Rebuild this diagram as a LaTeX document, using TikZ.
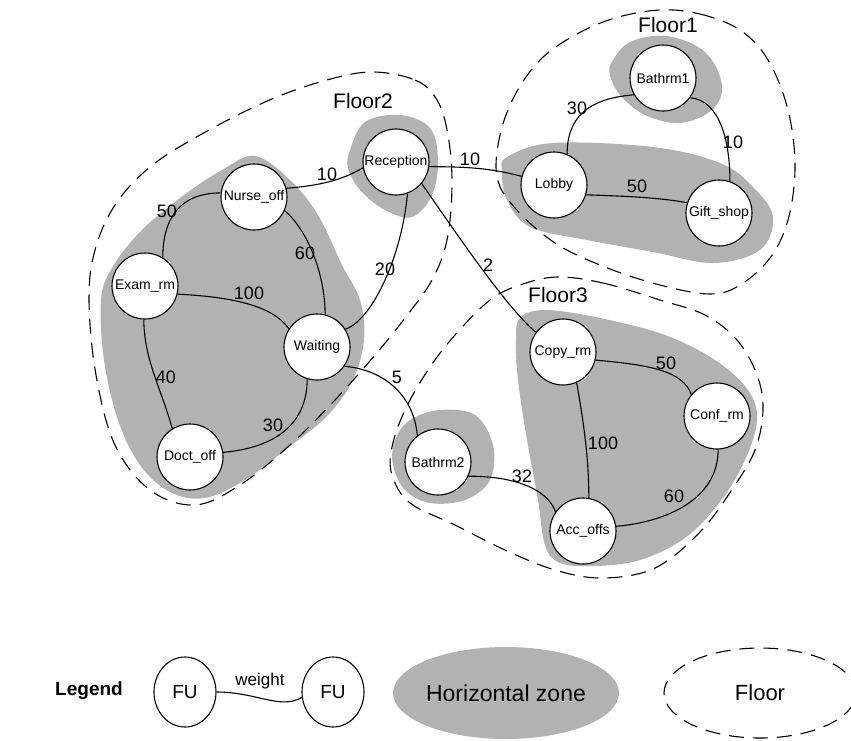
\documentclass[tikz,border=0pt]{standalone}
\usepackage{fontspec}
\setmainfont{Liberation Sans}
\usetikzlibrary{shapes.geometric}
\definecolor{zonegray}{gray}{0.70}
\begin{document}
\begin{tikzpicture}[x=1pt,y=1pt,
  fu/.style={circle,draw,fill=white,line width=1.1pt,minimum size=66pt,inner sep=0pt,
    font=\fontsize{14}{16}\selectfont},
  link/.style={line width=1.1pt},
  wlabel/.style={font=\fontsize{18}{20}\selectfont,inner sep=0pt},
  zone/.style={fill=zonegray,draw=none},
  floorline/.style={line width=1.1pt,dash pattern=on 15pt off 9pt},
  floorlabel/.style={font=\fontsize{21}{24}\selectfont,inner sep=0pt}]
\useasboundingbox (0,0) rectangle (851,-740);

% horizontal zones
\fill[zone] plot[smooth cycle,tension=0.6] coordinates {(255,-156) (290,-180) (318,-215) (342,-265) (360,-300) (364,-340) (352,-382) (325,-418) (285,-450) (245,-480) (205,-498) (170,-492) (140,-465) (118,-420) (104,-360) (101,-300) (112,-268) (140,-232) (180,-198) (222,-170)};
\fill[zone] plot[smooth cycle,tension=0.6] coordinates {(350,-150) (365,-122) (400,-115) (430,-128) (438,-160) (432,-195) (412,-217) (385,-210) (360,-190) (348,-168)};
\fill[zone] plot[smooth cycle,tension=0.6] coordinates {(612,-62) (630,-42) (667,-36) (705,-52) (722,-85) (712,-110) (680,-123) (645,-115) (620,-95) (610,-75)};
\fill[zone] plot[smooth cycle,tension=0.6] coordinates {(507,-157) (553,-143) (653,-147) (720,-163) (753,-187) (773,-217) (760,-250) (713,-263) (653,-252) (587,-240) (530,-227) (507,-200) (502,-172)};
\fill[zone] plot[smooth cycle,tension=0.6] coordinates {(395,-440) (410,-420) (440,-410) (475,-415) (493,-445) (490,-480) (465,-500) (430,-503) (405,-490) (393,-465)};
\fill[zone] plot[smooth cycle,tension=0.6] coordinates {(520,-318) (545,-310) (600,-318) (665,-335) (715,-360) (748,-390) (757,-420) (745,-460) (720,-502) (685,-538) (640,-560) (595,-566) (560,-563) (545,-545) (538,-500) (527,-440) (518,-380) (516,-340)};

% floors
\draw[floorline] plot[smooth cycle,tension=0.6] coordinates {(660,-10) (700,-14) (740,-30) (768,-60) (788,-110) (795,-167) (788,-220) (770,-258) (740,-285) (710,-294) (660,-285) (605,-267) (555,-243) (515,-208) (497,-177) (500,-135) (515,-95) (540,-60) (575,-35) (615,-18)};
\draw[floorline] plot[smooth cycle,tension=0.6] coordinates {(370,-72) (415,-80) (437,-100) (448,-135) (452,-185) (447,-240) (432,-280) (405,-318) (375,-355) (335,-400) (290,-445) (240,-485) (195,-505) (150,-490) (115,-445) (96,-375) (89,-300) (95,-250) (115,-205) (150,-167) (200,-135) (265,-102) (320,-82)};
\draw[floorline] plot[smooth cycle,tension=0.6] coordinates {(557,-277) (603,-283) (660,-300) (705,-315) (737,-340) (757,-375) (763,-410) (755,-450) (733,-488) (700,-532) (655,-568) (603,-578) (555,-570) (505,-550) (455,-525) (410,-503) (392,-475) (392,-447) (405,-410) (428,-370) (455,-335) (490,-300) (520,-285)};

\node[floorlabel] (f1) at (668,-25) {Floor1};
\node[floorlabel] (f2) at (363,-101) {Floor2};
\node[floorlabel] (f3) at (558,-295) {Floor3};

% functional units
\node[fu] (rec)   at (396,-162) {Reception};
\node[fu] (nurse) at (254,-197) {Nurse\_off};
\node[fu] (exam)  at (145,-286) {Exam\_rm};
\node[fu] (wait)  at (317,-347) {Waiting};
\node[fu] (doct)  at (190,-457) {Doct\_off};
\node[fu] (bath2) at (438,-462) {Bathrm2};
\node[fu] (bath1) at (663,-78)  {Bathrm1};
\node[fu] (lobby) at (554,-185) {Lobby};
\node[fu] (gift)  at (719,-213) {Gift\_shop};
\node[fu] (copy)  at (563,-352) {Copy\_rm};
\node[fu] (conf)  at (717,-416) {Conf\_rm};
\node[fu] (acc)   at (583,-531) {Acc\_offs};

% weighted links
\draw[link] (nurse.15) .. controls +(5:35) and +(210:25) .. (rec.190);
\draw[link] (nurse.173) .. controls +(180:40) and +(90:40) .. (exam.58);
\draw[link] (nurse.-24) .. controls +(-40:30) and +(90:40) .. (wait.76);
\draw[link] (rec.-70) .. controls +(-95:60) and +(20:30) .. (wait.32);
\draw[link] (exam.-14) .. controls +(-3:50) and +(125:30) .. (wait.147);
\draw[link] (exam.-92) .. controls +(-90:40) and +(105:40) .. (doct.122);
\draw[link] (wait.-107) .. controls +(-90:50) and +(5:45) .. (doct.8);
\draw[link] (wait.-35) .. controls +(-5:40) and +(95:40) .. (bath2.128);
\draw[link] (rec.-8) .. controls +(0:40) and +(165:30) .. (lobby.165);
\draw[link] (rec.-40) .. controls +(-55:50) and +(140:40) .. (copy.144);
\draw[link] (lobby.67) .. controls +(90:45) and +(185:35) .. (bath1.210);
\draw[link] (bath1.-36) .. controls +(-5:30) and +(90:40) .. (gift.71);
\draw[link] (lobby.-17) .. controls +(-2:40) and +(170:30) .. (gift.162);
\draw[link] (copy.-14) .. controls +(-5:55) and +(110:25) .. (conf.140);
\draw[link] (copy.-66) .. controls +(-80:40) and +(90:40) .. (acc.80);
\draw[link] (conf.-88) .. controls +(-90:50) and +(5:50) .. (acc.8);
\draw[link] (bath2.-25) .. controls +(0:45) and +(110:25) .. (acc.145);

% weights
\node[wlabel] (w1)  at (327,-174) {10};
\node[wlabel] (w2)  at (167,-211) {50};
\node[wlabel] (w3)  at (305,-253) {60};
\node[wlabel] (w4)  at (385,-269) {20};
\node[wlabel] (w5)  at (249,-293) {100};
\node[wlabel] (w6)  at (166,-377) {40};
\node[wlabel] (w7)  at (273,-425) {30};
\node[wlabel] (w8)  at (397,-377) {5};
\node[wlabel] (w9)  at (470,-159) {10};
\node[wlabel] (w10) at (488,-265) {2};
\node[wlabel] (w11) at (577,-108) {30};
\node[wlabel] (w12) at (733,-142) {10};
\node[wlabel] (w13) at (637,-186) {50};
\node[wlabel] (w14) at (666,-363) {50};
\node[wlabel] (w15) at (603,-443) {100};
\node[wlabel] (w16) at (674,-496) {60};
\node[wlabel] (w17) at (522,-476) {32};

% legend
\node[font=\bfseries\fontsize{19}{22}\selectfont,inner sep=0pt] (legtitle) at (89,-691) {Legend};
\node[ellipse,draw,line width=1.1pt,minimum width=62pt,minimum height=70pt,inner sep=0pt,
  font=\fontsize{19}{22}\selectfont] (fua) at (185,-692) {FU};
\node[ellipse,draw,line width=1.1pt,minimum width=62pt,minimum height=70pt,inner sep=0pt,
  font=\fontsize{19}{22}\selectfont] (fub) at (333,-692) {FU};
\draw[link] (fua.0) .. controls +(0:40) and +(210:25) .. (fub.190);
\node[font=\fontsize{17}{20}\selectfont,inner sep=0pt] (wkey) at (260,-681) {weight};
\node[ellipse,fill=zonegray,minimum width=208pt,minimum height=92pt,inner sep=0pt,
  font=\fontsize{23}{26}\selectfont] (zkey) at (506,-693) {Horizontal zone};
\node[ellipse,draw,floorline,minimum width=192pt,minimum height=90pt,inner sep=0pt,
  font=\fontsize{22}{25}\selectfont] (fkey) at (760,-693) {Floor};
\end{tikzpicture}
\end{document}
